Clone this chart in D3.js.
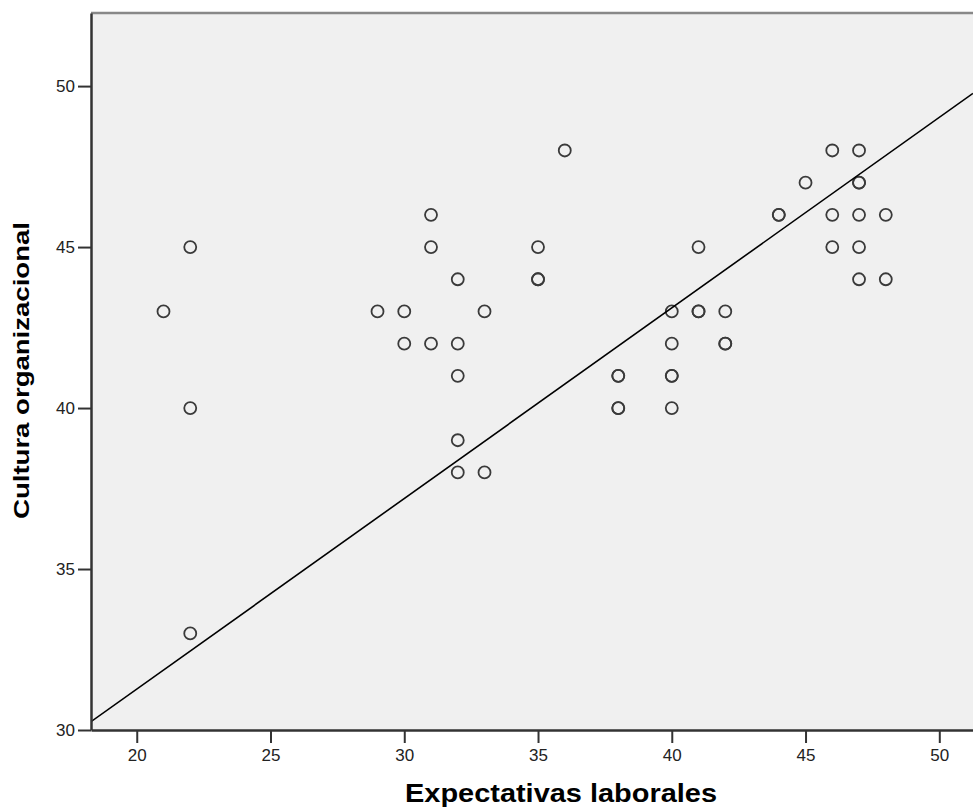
<!DOCTYPE html>
<html><head><meta charset="utf-8">
<script src="https://cdn.jsdelivr.net/npm/d3@7"></script>
<style>body{margin:0;background:#fff}svg{display:block}</style>
</head><body>
<script>
// Data (duplicated rows = overlapping cases)
const expectativas = [21,22,22,22,29,30,30,31,31,31,32,32,32,32,32,33,33,35,35,35,36,38,38,38,38,40,40,40,40,40,41,41,41,42,42,42,44,44,45,46,46,46,47,47,47,47,47,47,48,48];
const cultura      = [43,45,40,33,43,43,42,46,45,42,44,42,41,39,38,43,38,45,44,44,48,41,41,40,40,43,42,41,41,40,45,43,43,43,42,42,46,46,47,48,46,45,48,47,47,46,45,44,46,44];
const xTicks = [20,25,30,35,40,45,50];
const yTicks = [30,35,40,45,50];
const fitIntercept = 19.43, fitSlope = 0.592;
const xTitle = "Expectativas laborales", yTitle = "Cultura organizacional";

const W = 973, H = 807;
const L = 91, R = 973, T = 13, B = 730;
const svg = d3.select("body").append("svg").attr("width", W).attr("height", H);

const x = d3.scaleLinear().domain([18.29, 51.26]).range([L, R]);
const y = d3.scaleLinear().domain([30, 52.27]).range([B, T]);

svg.append("rect").attr("x", L).attr("y", T).attr("width", R - L).attr("height", B - T).attr("fill", "#f0f0f0");
svg.append("defs").append("clipPath").attr("id", "clip").append("rect")
  .attr("x", L).attr("y", T).attr("width", R - L).attr("height", B - T);

// top border
svg.append("line").attr("x1", L).attr("x2", R).attr("y1", T).attr("y2", T).attr("stroke", "#888").attr("stroke-width", 2.5);

// points
const pts = expectativas.map((v, i) => ({x: v, y: cultura[i]}));
svg.append("g").selectAll("circle").data(pts).join("circle")
  .attr("cx", d => x(d.x)).attr("cy", d => y(d.y)).attr("r", 6)
  .attr("fill", "none").attr("stroke", "#3a3a3a").attr("stroke-width", 1.8);

// fit line
const [x0, x1] = x.domain();
svg.append("line").attr("clip-path", "url(#clip)")
  .attr("x1", x(x0)).attr("y1", y(fitIntercept + fitSlope * x0))
  .attr("x2", x(x1)).attr("y2", y(fitIntercept + fitSlope * x1))
  .attr("stroke", "#000").attr("stroke-width", 1.6);

// axes
const xAxis = svg.append("g").attr("transform", `translate(0,${B})`)
  .call(d3.axisBottom(x).tickValues(xTicks).tickSizeInner(13).tickSizeOuter(0).tickPadding(6).tickFormat(d3.format("d")));
const yAxis = svg.append("g").attr("transform", `translate(${L},0)`)
  .call(d3.axisLeft(y).tickValues(yTicks).tickSizeInner(13).tickSizeOuter(0).tickPadding(3).tickFormat(d3.format("d")));
[xAxis, yAxis].forEach(g => {
  g.select(".domain").attr("stroke", "#333").attr("stroke-width", 2.5);
  g.selectAll(".tick line").attr("stroke", "#333").attr("stroke-width", 2);
  g.selectAll(".tick text").attr("fill", "#222").attr("font-family", "Liberation Sans, Arial, sans-serif").attr("font-size", 17);
});

// titles
svg.append("text").text(xTitle)
  .attr("x", 561).attr("y", 802).attr("text-anchor", "middle")
  .attr("font-family", "Liberation Sans, Arial, sans-serif").attr("font-weight", "bold").attr("font-size", 25)
  .attr("textLength", 312).attr("lengthAdjust", "spacingAndGlyphs").attr("fill", "#000");
svg.append("text").text(yTitle)
  .attr("transform", "translate(28.5,370.5) rotate(-90)").attr("text-anchor", "middle")
  .attr("font-family", "Liberation Sans, Arial, sans-serif").attr("font-weight", "bold").attr("font-size", 22)
  .attr("textLength", 297).attr("lengthAdjust", "spacingAndGlyphs").attr("fill", "#000");
</script>
</body></html>
